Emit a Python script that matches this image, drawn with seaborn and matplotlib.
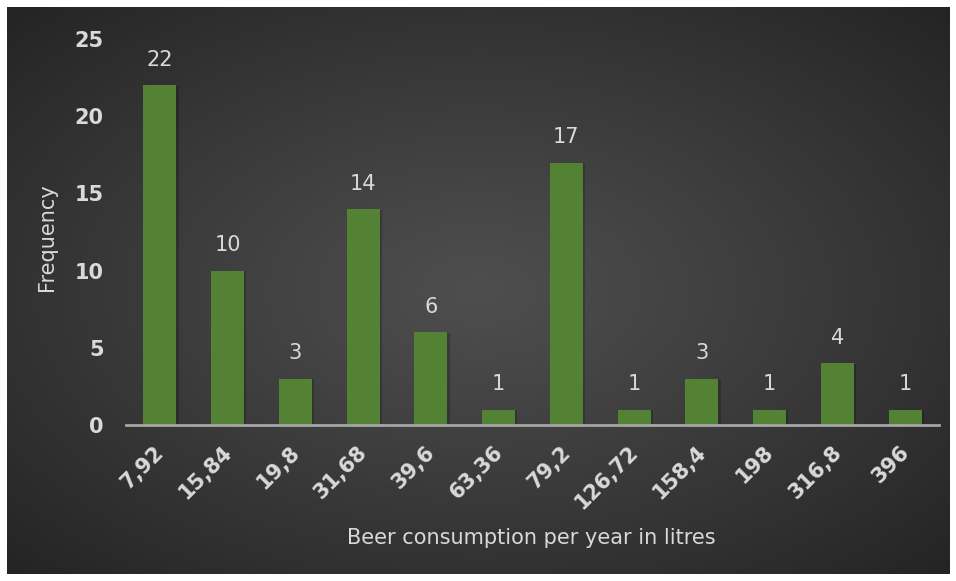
import numpy as np
import pandas as pd
import matplotlib
matplotlib.use("Agg")
import matplotlib.pyplot as plt
import matplotlib.patheffects as pe
import matplotlib.transforms as mtransforms
import seaborn as sns

categories = ["7,92", "15,84", "19,8", "31,68", "39,6", "63,36", "79,2",
              "126,72", "158,4", "198", "316,8", "396"]
frequency = [22, 10, 3, 14, 6, 1, 17, 1, 3, 1, 4, 1]
y_ticks = [0, 5, 10, 15, 20, 25]

df = pd.DataFrame({"bin": categories, "freq": frequency})

sns.set_theme(style="white")
plt.rcParams["font.family"] = ["DejaVu Sans"]

W, H = 956, 581
fig = plt.figure(figsize=(W / 100, H / 100), dpi=100, facecolor="white")

# gradient background panel
bg = fig.add_axes([7 / W, 7 / H, (W - 14) / W, (H - 14) / H])
bg.set_axis_off()
nx, ny = 400, 240
xx, yy = np.meshgrid(np.linspace(-1, 1, nx), np.linspace(-1, 1, ny))
r = np.sqrt(xx ** 2 + yy ** 2) / np.sqrt(2)
light = np.array([0x4e, 0x4e, 0x4e]) / 255
dark = np.array([0x24, 0x24, 0x24]) / 255
t = np.clip(r, 0, 1) ** 1.1
img = light[None, None, :] * (1 - t[..., None]) + dark[None, None, :] * t[..., None]
bg.imshow(img, aspect="auto", extent=[0, 1, 0, 1], interpolation="bicubic")
bg.set_xlim(0, 1)
bg.set_ylim(0, 1)

left, right = 126 / W, 939 / W
bottom = (H - 425) / H
top = (H - 39) / H
ax = fig.add_axes([left, bottom, right - left, top - bottom])
ax.patch.set_alpha(0)

sns.barplot(data=df, x="bin", y="freq", color="#548235", saturation=1,
            width=0.49, linewidth=0, ax=ax)
for p in ax.patches:
    p.set_linewidth(0)
    p.set_path_effects([pe.SimplePatchShadow(offset=(1.5, -0.5), alpha=0.2, shadow_rgbFace="black"),
                        pe.Normal()])

ax.set_xlim(-0.5, 11.5)
ax.set_ylim(0, 25)
ax.set_yticks(y_ticks)
txt = "#d9d9d9"
for i, v in enumerate(frequency):
    ax.annotate(str(v), (i, v), xytext=(0, 11), textcoords="offset points",
                ha="center", va="bottom", color=txt, fontsize=15)

for s in ["top", "right", "left"]:
    ax.spines[s].set_visible(False)
ax.spines["bottom"].set_color("#a6a6a6")
ax.spines["bottom"].set_linewidth(2)

ax.tick_params(axis="y", length=0, pad=16, labelsize=15, labelcolor=txt)
ax.tick_params(axis="x", length=0, pad=12, labelsize=15, labelcolor=txt)
for lab in ax.get_yticklabels():
    lab.set_fontweight("bold")
shift = mtransforms.ScaledTranslation(-6 / 100, 0, fig.dpi_scale_trans)
for lab in ax.get_xticklabels():
    lab.set_fontweight("bold")
    lab.set_rotation(45)
    lab.set_ha("right")
    lab.set_va("top")
    lab.set_rotation_mode("anchor")
    lab.set_transform(lab.get_transform() + shift)

ax.set_xlabel("")
ax.set_ylabel("")
fig.text(531 / W, 1 - 538 / H, "Beer consumption per year in litres",
         ha="center", va="center", color=txt, fontsize=15)
fig.text(47 / W, 1 - 237 / H, "Frequency", ha="center", va="center",
         rotation=90, color=txt, fontsize=15)

fig.savefig("out.png", dpi=100, facecolor="white")
